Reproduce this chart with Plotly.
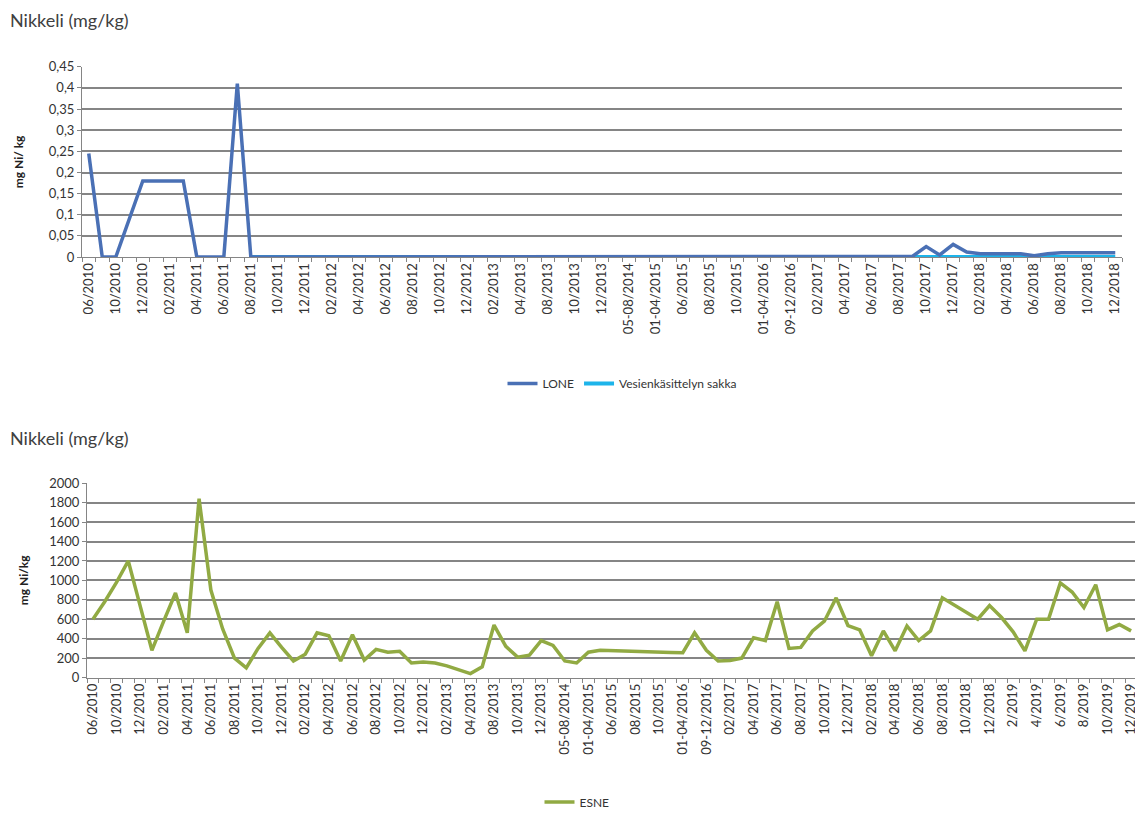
import plotly.graph_objects as go

# tick labels shown on every second category (Excel-style category axis)
tick_labels = ['06/2010', '10/2010', '12/2010', '02/2011', '04/2011', '06/2011', '08/2011',
               '10/2011', '12/2011', '02/2012', '04/2012', '06/2012', '08/2012', '10/2012',
               '12/2012', '02/2013', '04/2013', '08/2013', '10/2013', '12/2013', '05-08/2014',
               '01-04/2015', '06/2015', '08/2015', '10/2015', '01-04/2016', '09-12/2016',
               '02/2017', '04/2017', '06/2017', '08/2017', '10/2017', '12/2017', '02/2018',
               '04/2018', '06/2018', '08/2018', '10/2018', '12/2018', '2/2019', '4/2019',
               '6/2019', '8/2019', '10/2019', '12/2019']

# top chart (mg Ni / kg), 77 categories
lone = [0.245, 0, 0, 0.09, 0.18, 0.18, 0.18, 0.18, 0, 0, 0, 0.41, 0,
        0, 0, 0, 0, 0, 0, 0, 0, 0, 0, 0, 0, 0, 0, 0, 0, 0, 0, 0, 0, 0, 0, 0, 0,
        0, 0, 0, 0, 0, 0, 0, 0, 0, 0, 0, 0, 0, 0, 0, 0, 0, 0, 0, 0, 0, 0, 0, 0,
        0.002, 0.025, 0.005, 0.03, 0.012, 0.008, 0.008, 0.01, 0.008, 0.003, 0.008,
        0.01, 0.01, 0.01, 0.01, 0.01]
vesi = [None] * 12 + [0] * 65

# bottom chart (mg Ni / kg), 89 categories
esne = [600, 780, 980, 1200, 740, 280, 580, 870, 460, 1840, 900, 500, 200, 100,
        300, 460, 310, 170, 240, 460, 430, 170, 440, 180, 290, 260, 270, 150,
        160, 150, 120, 80, 40, 110, 540, 320, 210, 230, 380, 330, 170, 150,
        260, 280, 275, 272, 270, 265, 262, 258, 255, 460, 280, 170, 175, 200,
        410, 380, 780, 300, 310, 480, 580, 820, 535, 490, 225, 480, 275, 530,
        380, 480, 820, 750, 680, 600, 740, 620, 470, 275, 600, 600, 975, 880,
        720, 955, 490, 545, 480]

x_top = list(range(len(lone)))
x_bot = list(range(len(esne)))

# the page body adds an 8px margin, so size the figure to fit the window
W, H = 1135, 809


def px(x):
    return (x - 8) / W


def py(y):
    return 1 - (y - 8) / H


fig = go.Figure()
fig.add_trace(go.Scatter(x=x_top, y=vesi, mode='lines', name='Vesienkäsittelyn sakka',
                         line=dict(color='#1db4ea', width=4), legendrank=2,
                         xaxis='x', yaxis='y', legend='legend'))
fig.add_trace(go.Scatter(x=x_top, y=lone, mode='lines', name='LONE',
                         line=dict(color='#4a70b5', width=3.5), legendrank=1,
                         xaxis='x', yaxis='y', legend='legend'))
fig.add_trace(go.Scatter(x=x_bot, y=esne, mode='lines', name='ESNE',
                         line=dict(color='#91aa43', width=3.5),
                         xaxis='x2', yaxis='y2', legend='legend2'))

grid = '#858585'
xcommon = dict(tickmode='array', tickangle=-90, ticks='', showgrid=False, zeroline=False,
               showline=True, linecolor=grid, linewidth=1, automargin=False,
               minor=dict(ticks='outside', tick0=-0.5, dtick=1, ticklen=4, tickcolor=grid))
ycommon = dict(showgrid=True, gridcolor=grid, gridwidth=1.8, zeroline=False,
               showline=True, linecolor=grid, linewidth=1, ticks='outside',
               ticklen=4, tickcolor=grid, automargin=False)
ytitle_font = dict(size=12, color='#222')

fig.update_layout(
    width=W, height=H,
    margin=dict(l=0, r=0, t=0, b=0),
    paper_bgcolor='white', plot_bgcolor='white',
    font=dict(family='Lato, Open Sans, sans-serif', size=13, color='#333333'),
    separators=', ',
    xaxis=dict(xcommon, domain=[px(82), px(1122)], range=[-0.5, len(lone) - 0.5],
               tickvals=x_top[::2], ticktext=tick_labels[:len(x_top[::2])], anchor='y'),
    yaxis=dict(ycommon, domain=[py(258), py(67)], range=[0, 0.45], dtick=0.05, anchor='x',
               title=dict(text='<b>mg Ni/ kg</b>', standoff=22, font=ytitle_font)),
    xaxis2=dict(xcommon, domain=[px(87), px(1137)], range=[-0.5, len(esne) - 0.5],
                tickvals=x_bot[::2], ticktext=tick_labels, anchor='y2'),
    yaxis2=dict(ycommon, domain=[py(680), py(485)], range=[0, 2000], dtick=200, anchor='x2',
                title=dict(text='<b>mg Ni/kg</b>', standoff=18, font=ytitle_font)),
    legend=dict(orientation='h', x=px(622), xanchor='center', y=py(385), yanchor='middle',
                font=dict(size=12), itemwidth=30),
    legend2=dict(orientation='h', x=px(577), xanchor='center', y=py(805), yanchor='middle',
                 font=dict(size=12), itemwidth=30),
    annotations=[
        dict(text='Nikkeli (mg/kg)', x=px(8), y=py(20), xref='paper', yref='paper',
             xanchor='left', yanchor='middle', showarrow=False, font=dict(size=18, color='#404040')),
        dict(text='Nikkeli (mg/kg)', x=px(8), y=py(440), xref='paper', yref='paper',
             xanchor='left', yanchor='middle', showarrow=False, font=dict(size=18, color='#404040')),
    ],
)

fig.write_html('out.html')
